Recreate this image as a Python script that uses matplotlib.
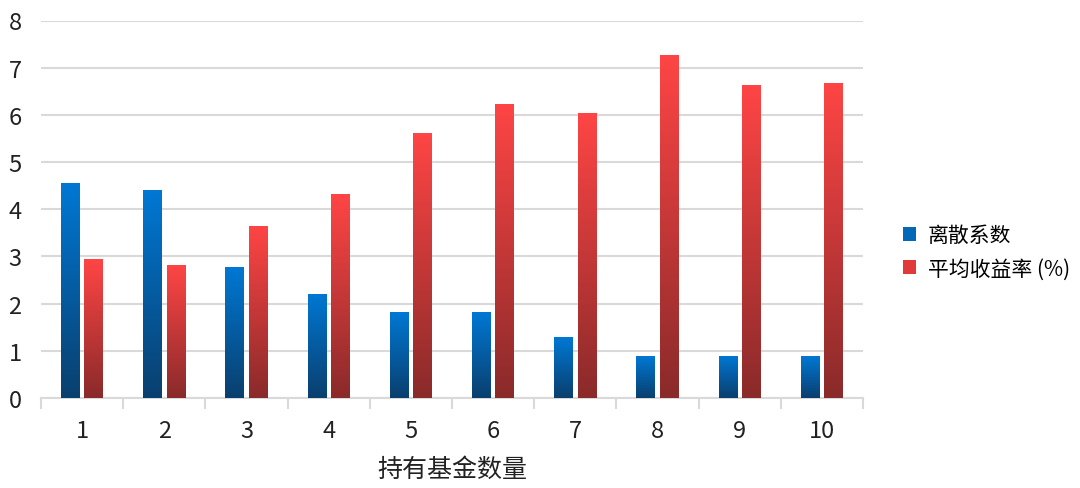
import numpy as np
import matplotlib
matplotlib.use('Agg')
import matplotlib.pyplot as plt
from matplotlib.colors import LinearSegmentedColormap
from matplotlib.patches import Patch

plt.rcParams['font.family'] = ['Noto Sans CJK SC', 'DejaVu Sans']

categories = ['1', '2', '3', '4', '5', '6', '7', '8', '9', '10']
dispersion = [4.55, 4.40, 2.77, 2.21, 1.82, 1.82, 1.29, 0.88, 0.90, 0.88]
avg_return = [2.94, 2.81, 3.65, 4.32, 5.61, 6.24, 6.03, 7.27, 6.63, 6.68]
series_names = ['离散系数', '平均收益率 (%)']

blue_cmap = LinearSegmentedColormap.from_list('b', ['#0A3F6E', '#0078D4'])
red_cmap = LinearSegmentedColormap.from_list('r', ['#8A2A2A', '#FF4545'])

fig = plt.figure(figsize=(10.8, 4.89), dpi=100)
ax = fig.add_axes([41 / 1080, 1 - 399 / 489, 822 / 1080, 377.5 / 489])

x = np.arange(len(categories))
w = 0.23
off = 0.142
grad = np.linspace(0, 1, 256).reshape(-1, 1)

def gradient_bars(vals, pos, cmap):
    bars = ax.bar(pos, vals, width=w, color='none', edgecolor='none', zorder=3)
    for b in bars:
        x0, y0 = b.get_x(), b.get_y()
        im = ax.imshow(grad, cmap=cmap, origin='lower', aspect='auto',
                       extent=[x0, x0 + b.get_width(), y0, y0 + b.get_height()],
                       zorder=3)
        im.set_clip_path(b)
    return bars

gradient_bars(dispersion, x - off, blue_cmap)
gradient_bars(avg_return, x + off, red_cmap)

ax.set_xlim(-0.5, len(categories) - 0.5)
ax.set_ylim(0, 8)
ax.set_yticks(range(0, 9))
ax.yaxis.grid(True, color='#D9D9D9', linewidth=1.5, zorder=0)
ax.set_axisbelow(True)

for s in ['top', 'right', 'left']:
    ax.spines[s].set_visible(False)
ax.spines['bottom'].set_color('#D9D9D9')
ax.spines['bottom'].set_linewidth(1.5)

ax.set_xticks(np.arange(-0.5, len(categories), 1), minor=False)
ax.set_xticklabels([])
ax.tick_params(axis='x', which='major', length=8, color='#D9D9D9', width=1.5)
ax.set_xticks(x, minor=True)
ax.set_xticklabels(categories, minor=True)
ax.tick_params(axis='x', which='minor', length=0, pad=15, labelsize=17, labelcolor='#222222')
ax.tick_params(axis='y', length=0, pad=14, labelsize=17, labelcolor='#222222')

ax.set_xlabel('持有基金数量', fontsize=18, color='#222222', labelpad=10)

handles = [Patch(facecolor='#0368B8', edgecolor='none'),
           Patch(facecolor='#E03A3A', edgecolor='none')]
fig.legend(handles, series_names, loc='center left', bbox_to_anchor=(884 / 1080, 1 - 253 / 489),
           frameon=False, fontsize=15, handlelength=0.65, handleheight=0.65,
           handletextpad=0.55, labelspacing=0.55)

fig.savefig('out.png', dpi=100)
